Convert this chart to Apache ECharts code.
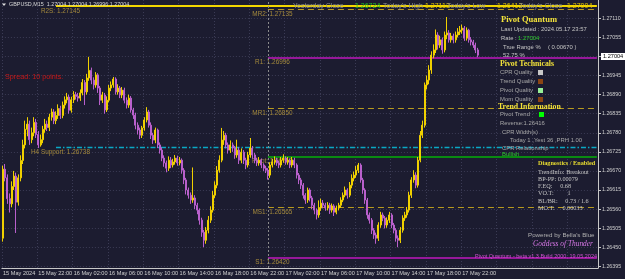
<!DOCTYPE html>
<html>
<head>
<meta charset="utf-8">
<script src="https://cdn.jsdelivr.net/npm/echarts@6/dist/echarts.min.js"></script>
<style>
  html, body { margin: 0; padding: 0; background: #1c1c30; }
  #chart { width: 625px; height: 279px; }
</style>
</head>
<body>
<div id="chart"></div>
<script>
// GBPUSD M15, 15 May 18:00 -> 17 May 23:45 (216 bars)
const timeLabels = ['15 May 2024', '15 May 22:00', '16 May 02:00', '16 May 06:00', '16 May 10:00',
  '16 May 14:00', '16 May 18:00', '16 May 22:00', '17 May 02:00', '17 May 06:00',
  '17 May 10:00', '17 May 14:00', '17 May 18:00', '17 May 22:00'];
const barsPerLabel = 16;
const slotCount = 270; // bars + chart shift space

const opens = [
  1.26476, 1.26675, 1.26650, 1.26590, 1.26575, 1.26625, 1.26655, 1.26580, 1.26650, 1.26700,
  1.26745, 1.26790, 1.26805, 1.26760, 1.26780, 1.26810, 1.26775, 1.26745, 1.26760, 1.26790,
  1.26805, 1.26795, 1.26825, 1.26840, 1.26815, 1.26830, 1.26850, 1.26830, 1.26860, 1.26875,
  1.26883, 1.26845, 1.26875, 1.26890, 1.26885, 1.26880, 1.26895, 1.26925, 1.26898, 1.26938,
  1.26960, 1.26932, 1.26918, 1.26947, 1.26909, 1.26874, 1.26889, 1.26846, 1.26874, 1.26909,
  1.26918, 1.26935, 1.26898, 1.26909, 1.26889, 1.26903, 1.26874, 1.26860, 1.26880, 1.26846,
  1.26831, 1.26802, 1.26788, 1.26773, 1.26794, 1.26817, 1.26840, 1.26802, 1.26773, 1.26759,
  1.26788, 1.26745, 1.26730, 1.26707, 1.26693, 1.26678, 1.26701, 1.26687, 1.26696, 1.26707,
  1.26693, 1.26701, 1.26672, 1.26644, 1.26615, 1.26600, 1.26586, 1.26592, 1.26571, 1.26557,
  1.26528, 1.26493, 1.26470, 1.26499, 1.26528, 1.26557, 1.26600, 1.26629, 1.26672, 1.26701,
  1.26759, 1.26773, 1.26745, 1.26730, 1.26745, 1.26736, 1.26716, 1.26730, 1.26701, 1.26724,
  1.26701, 1.26687, 1.26716, 1.26736, 1.26716, 1.26701, 1.26693, 1.26701, 1.26687, 1.26678,
  1.26672, 1.26658, 1.26687, 1.26696, 1.26701, 1.26693, 1.26687, 1.26701, 1.26707, 1.26696,
  1.26701, 1.26687, 1.26701, 1.26687, 1.26658, 1.26644, 1.26629, 1.26600, 1.26586, 1.26615,
  1.26592, 1.26571, 1.26557, 1.26543, 1.26563, 1.26577, 1.26571, 1.26563, 1.26571, 1.26557,
  1.26569, 1.26551, 1.26563, 1.26571, 1.26586, 1.26600, 1.26615, 1.26600, 1.26629, 1.26649,
  1.26658, 1.26672, 1.26687, 1.26644, 1.26615, 1.26586, 1.26543, 1.26528, 1.26499, 1.26485,
  1.26476, 1.26514, 1.26543, 1.26534, 1.26514, 1.26528, 1.26543, 1.26514, 1.26499, 1.26476,
  1.26470, 1.26499, 1.26534, 1.26543, 1.26557, 1.26600, 1.26644, 1.26658, 1.26629, 1.26701,
  1.26773, 1.26802, 1.26918, 1.26932, 1.26961, 1.27004, 1.27019, 1.27062, 1.27033, 1.27048,
  1.27019, 1.27062, 1.27068, 1.27048, 1.27059, 1.27048, 1.27062, 1.27071, 1.27076, 1.27082,
  1.27053, 1.27076, 1.27048, 1.27042, 1.27033, 1.27019
];
const closes = [
  1.26675, 1.26650, 1.26590, 1.26575, 1.26625, 1.26655, 1.26580, 1.26650, 1.26700, 1.26745,
  1.26790, 1.26805, 1.26760, 1.26780, 1.26810, 1.26775, 1.26745, 1.26760, 1.26790, 1.26805,
  1.26795, 1.26825, 1.26840, 1.26815, 1.26830, 1.26850, 1.26830, 1.26860, 1.26875, 1.26883,
  1.26845, 1.26875, 1.26890, 1.26885, 1.26880, 1.26895, 1.26925, 1.26898, 1.26938, 1.26960,
  1.26932, 1.26918, 1.26947, 1.26909, 1.26874, 1.26889, 1.26846, 1.26874, 1.26909, 1.26918,
  1.26935, 1.26898, 1.26909, 1.26889, 1.26903, 1.26874, 1.26860, 1.26880, 1.26846, 1.26831,
  1.26802, 1.26788, 1.26773, 1.26794, 1.26817, 1.26840, 1.26802, 1.26773, 1.26759, 1.26788,
  1.26745, 1.26730, 1.26707, 1.26693, 1.26678, 1.26701, 1.26687, 1.26696, 1.26707, 1.26693,
  1.26701, 1.26672, 1.26644, 1.26615, 1.26600, 1.26586, 1.26592, 1.26571, 1.26557, 1.26528,
  1.26493, 1.26470, 1.26499, 1.26528, 1.26557, 1.26600, 1.26629, 1.26672, 1.26701, 1.26759,
  1.26773, 1.26745, 1.26730, 1.26745, 1.26736, 1.26716, 1.26730, 1.26701, 1.26724, 1.26701,
  1.26687, 1.26716, 1.26736, 1.26716, 1.26701, 1.26693, 1.26701, 1.26687, 1.26678, 1.26672,
  1.26658, 1.26687, 1.26696, 1.26701, 1.26693, 1.26687, 1.26701, 1.26707, 1.26696, 1.26701,
  1.26687, 1.26701, 1.26687, 1.26658, 1.26644, 1.26629, 1.26600, 1.26586, 1.26615, 1.26592,
  1.26571, 1.26557, 1.26543, 1.26563, 1.26577, 1.26571, 1.26563, 1.26571, 1.26557, 1.26569,
  1.26551, 1.26563, 1.26571, 1.26586, 1.26600, 1.26615, 1.26600, 1.26629, 1.26649, 1.26658,
  1.26672, 1.26687, 1.26644, 1.26615, 1.26586, 1.26543, 1.26528, 1.26499, 1.26485, 1.26476,
  1.26514, 1.26543, 1.26534, 1.26514, 1.26528, 1.26543, 1.26514, 1.26499, 1.26476, 1.26470,
  1.26499, 1.26534, 1.26543, 1.26557, 1.26600, 1.26644, 1.26658, 1.26629, 1.26701, 1.26773,
  1.26802, 1.26918, 1.26932, 1.26961, 1.27004, 1.27019, 1.27062, 1.27033, 1.27048, 1.27019,
  1.27062, 1.27068, 1.27048, 1.27059, 1.27048, 1.27062, 1.27071, 1.27076, 1.27082, 1.27053,
  1.27076, 1.27048, 1.27042, 1.27033, 1.27019, 1.27004
];
const lows = [
  1.26466, 1.26640, 1.26575, 1.26550, 1.26565, 1.26615, 1.26491, 1.26570, 1.26640, 1.26690,
  1.26735, 1.26770, 1.26745, 1.26750, 1.26770, 1.26765, 1.26736, 1.26740, 1.26750, 1.26780,
  1.26785, 1.26785, 1.26815, 1.26805, 1.26805, 1.26820, 1.26820, 1.26822, 1.26850, 1.26865,
  1.26835, 1.26838, 1.26866, 1.26876, 1.26870, 1.26872, 1.26888, 1.26860, 1.26890, 1.26930,
  1.26920, 1.26905, 1.26910, 1.26895, 1.26860, 1.26866, 1.26835, 1.26840, 1.26868, 1.26900,
  1.26910, 1.26890, 1.26890, 1.26880, 1.26880, 1.26865, 1.26850, 1.26852, 1.26838, 1.26820,
  1.26790, 1.26775, 1.26762, 1.26765, 1.26786, 1.26810, 1.26795, 1.26762, 1.26748, 1.26750,
  1.26736, 1.26720, 1.26698, 1.26682, 1.26666, 1.26670, 1.26678, 1.26680, 1.26688, 1.26685,
  1.26686, 1.26662, 1.26632, 1.26602, 1.26590, 1.26575, 1.26578, 1.26560, 1.26545, 1.26515,
  1.26480, 1.26450, 1.26460, 1.26490, 1.26520, 1.26550, 1.26592, 1.26620, 1.26665, 1.26695,
  1.26745, 1.26735, 1.26720, 1.26722, 1.26725, 1.26705, 1.26708, 1.26690, 1.26692, 1.26690,
  1.26675, 1.26680, 1.26708, 1.26705, 1.26692, 1.26684, 1.26685, 1.26678, 1.26670, 1.26664,
  1.26645, 1.26650, 1.26680, 1.26688, 1.26685, 1.26678, 1.26680, 1.26694, 1.26688, 1.26688,
  1.26678, 1.26680, 1.26678, 1.26648, 1.26632, 1.26618, 1.26590, 1.26575, 1.26578, 1.26582,
  1.26560, 1.26545, 1.26530, 1.26535, 1.26555, 1.26562, 1.26555, 1.26556, 1.26546, 1.26550,
  1.26540, 1.26545, 1.26556, 1.26564, 1.26580, 1.26594, 1.26590, 1.26594, 1.26620, 1.26640,
  1.26650, 1.26664, 1.26636, 1.26604, 1.26575, 1.26532, 1.26518, 1.26488, 1.26474, 1.26460,
  1.26468, 1.26506, 1.26525, 1.26504, 1.26506, 1.26520, 1.26505, 1.26490, 1.26466, 1.26450,
  1.26462, 1.26492, 1.26526, 1.26535, 1.26550, 1.26592, 1.26636, 1.26620, 1.26622, 1.26695,
  1.26765, 1.26795, 1.26905, 1.26920, 1.26950, 1.26995, 1.27010, 1.27020, 1.27025, 1.27008,
  1.27012, 1.27050, 1.27040, 1.27040, 1.27038, 1.27040, 1.27055, 1.27062, 1.27066, 1.27045,
  1.27046, 1.27040, 1.27032, 1.27025, 1.27010, 1.26998
];
const highs = [
  1.26685, 1.26690, 1.26660, 1.26605, 1.26640, 1.26670, 1.26665, 1.26660, 1.26715, 1.26760,
  1.26815, 1.26825, 1.26815, 1.26795, 1.26825, 1.26820, 1.26785, 1.26775, 1.26800, 1.26820,
  1.26815, 1.26835, 1.26850, 1.26848, 1.26842, 1.26862, 1.26858, 1.26870, 1.26885, 1.26895,
  1.26890, 1.26884, 1.26900, 1.26898, 1.26895, 1.26905, 1.26935, 1.26932, 1.26950, 1.26999,
  1.26968, 1.26940, 1.26955, 1.26952, 1.26915, 1.26898, 1.26895, 1.26885, 1.26918, 1.26928,
  1.26941, 1.26940, 1.26920, 1.26915, 1.26912, 1.26910, 1.26882, 1.26890, 1.26886, 1.26852,
  1.26838, 1.26810, 1.26795, 1.26800, 1.26825, 1.26854, 1.26846, 1.26810, 1.26780, 1.26795,
  1.26792, 1.26752, 1.26738, 1.26715, 1.26700, 1.26712, 1.26710, 1.26705, 1.26716, 1.26714,
  1.26710, 1.26706, 1.26678, 1.26650, 1.26622, 1.26608, 1.26680, 1.26600, 1.26578, 1.26562,
  1.26535, 1.26500, 1.26508, 1.26540, 1.26568, 1.26612, 1.26640, 1.26684, 1.26715, 1.26794,
  1.26785, 1.26780, 1.26752, 1.26758, 1.26752, 1.26742, 1.26760, 1.26738, 1.26735, 1.26730,
  1.26708, 1.26725, 1.26765, 1.26742, 1.26722, 1.26708, 1.26710, 1.26706, 1.26692, 1.26685,
  1.26678, 1.26695, 1.26705, 1.26712, 1.26708, 1.26700, 1.26710, 1.26718, 1.26712, 1.26710,
  1.26706, 1.26710, 1.26708, 1.26692, 1.26664, 1.26650, 1.26635, 1.26606, 1.26622, 1.26620,
  1.26598, 1.26578, 1.26562, 1.26585, 1.26590, 1.26586, 1.26578, 1.26580, 1.26578, 1.26576,
  1.26574, 1.26570, 1.26578, 1.26594, 1.26608, 1.26625, 1.26620, 1.26638, 1.26660, 1.26668,
  1.26684, 1.26693, 1.26692, 1.26650, 1.26620, 1.26592, 1.26550, 1.26534, 1.26505, 1.26492,
  1.26522, 1.26552, 1.26550, 1.26540, 1.26536, 1.26552, 1.26548, 1.26520, 1.26505, 1.26484,
  1.26508, 1.26542, 1.26552, 1.26566, 1.26610, 1.26652, 1.26672, 1.26666, 1.26710, 1.26785,
  1.26815, 1.26925, 1.26945, 1.26975, 1.27015, 1.27035, 1.27078, 1.27070, 1.27060, 1.27055,
  1.27072, 1.27114, 1.27076, 1.27068, 1.27066, 1.27072, 1.27082, 1.27088, 1.27092, 1.27088,
  1.27084, 1.27080, 1.27056, 1.27048, 1.27040, 1.27025
];

const priceTicks = [1.26395, 1.26450, 1.26505, 1.26560, 1.26615, 1.26670, 1.26725, 1.26780,
  1.26835, 1.26890, 1.26945, 1.27000, 1.27055, 1.27110];
const priceLabels = [1.26395, 1.26450, 1.26505, 1.26560, 1.26615, 1.26670, 1.26725, 1.26780,
  1.26835, 1.26890, 1.26945, 1.27055, 1.27110];
const lastPrice = 1.27004;

// pivot levels and the bar where each one starts
const levelNames = ['R2S', 'MR2', 'R1', 'MR1', 'H4 Support', 'Pivot', 'MS1', 'S1'];
const levelValues = [1.27145, 1.27135, 1.26996, 1.26850, 1.26738, 1.26710, 1.26565, 1.26420];
const levelStartBar = [24, 120, 120, 120, 24, 120, 120, 120];
const daySeparatorBar = 120;

const gold = '#a58a3c';
const levelStyle = {
  'R2S': { color: '#f2d600', width: 2, type: 'solid' },
  'MR2': { color: '#b89a1e', width: 1, type: [6, 4] },
  'R1': { color: '#96189a', width: 2, type: 'solid' },
  'MR1': { color: '#b89a1e', width: 1, type: [6, 4] },
  'H4 Support': { color: '#0aa8c4', width: 1.4, type: [5, 2, 1.5, 2] },
  'Pivot': { color: '#0a8a12', width: 2, type: 'solid' },
  'MS1': { color: '#b89a1e', width: 1, type: [6, 4] },
  'S1': { color: '#96189a', width: 2, type: 'solid' }
};

const slots = [];
for (let i = 0; i < slotCount; i++) slots.push(String(i));
const candles = closes.map((c, i) => [opens[i], c, lows[i], highs[i]]);
const onLabel = (idx) => idx % barsPerLabel === 0 && idx / barsPerLabel < timeLabels.length;

const chart = echarts.init(document.getElementById('chart'));

const levelLines = levelNames.map((name, i) => [
  { coord: [levelStartBar[i], levelValues[i]], lineStyle: levelStyle[name] },
  { coord: [slotCount - 1, levelValues[i]] }
]);

chart.setOption({
  backgroundColor: '#1c1c30',
  animation: false,
  grid: { left: 0, right: 27, top: 0, bottom: 11, containLabel: false },
  xAxis: {
    type: 'category',
    data: slots,
    boundaryGap: true,
    axisLine: { lineStyle: { color: '#c8c8c8', width: 1 } },
    axisTick: { interval: (i) => onLabel(i), alignWithLabel: true, length: 2, lineStyle: { color: '#c8c8c8' } },
    axisLabel: {
      interval: (i) => onLabel(i),
      formatter: (v, i) => timeLabels[i / barsPerLabel] || '',
      align: 'left', margin: 2, color: '#d0d0d0',
      fontFamily: 'Liberation Sans', fontSize: 5.6
    },
    splitLine: {
      show: true, interval: (i) => i % barsPerLabel === 0,
      lineStyle: { color: '#3b3b55', type: [1, 2], width: 1 }
    }
  },
  yAxis: {
    type: 'value',
    position: 'right',
    scale: true,
    min: 1.26390,
    max: 1.27163,
    axisLine: { show: true, lineStyle: { color: '#c8c8c8', width: 1 } },
    axisTick: { show: true, customValues: priceTicks, length: 3, lineStyle: { color: '#c8c8c8' } },
    axisLabel: {
      customValues: priceLabels,
      formatter: (v) => v.toFixed(5),
      color: '#d0d0d0', margin: 4,
      fontFamily: 'Liberation Sans', fontSize: 5.3
    },
    splitLine: { show: true, lineStyle: { color: '#3b3b55', type: [1, 2], width: 1 } }
  },
  series: [{
    type: 'candlestick',
    data: candles,
    barWidth: 1.5,
    z: 5,
    itemStyle: {
      color: '#f0d000', color0: '#b960cc',
      borderColor: '#f0d000', borderColor0: '#b960cc', borderWidth: 1
    },
    markLine: {
      symbol: ['none', 'none'],
      silent: true,
      z: 3,
      label: { show: false },
      emphasis: { disabled: true },
      data: [
        ...levelLines,
        { xAxis: daySeparatorBar, lineStyle: { color: '#8a8a8a', type: [2, 2], width: 1 } }
      ]
    }
  }, {
    // carries the current price tag on the axis
    type: 'line',
    data: [],
    markLine: {
      symbol: ['none', 'none'],
      silent: true,
      z: 20,
      data: [{
        yAxis: lastPrice,
        lineStyle: { color: 'rgba(0,0,0,0)', width: 0 },
        label: {
          show: true, position: 'end', distance: 3,
          formatter: lastPrice.toFixed(5),
          backgroundColor: '#ffffff', color: '#000000',
          padding: [1, 2, 0, 2], fontFamily: 'Liberation Sans', fontSize: 5.6
        }
      }]
    }
  }]
});

// text objects drawn on the chart
function txt(x, y, text, fill, size, extra) {
  return {
    type: 'text', x: x, y: y, z: 1,
    style: Object.assign({
      text: text, fill: fill,
      font: size + 'px "Liberation Sans"',
      textVerticalAlign: 'middle'
    }, extra || {})
  };
}
function box(x, y, fill) {
  return { type: 'rect', z: 10, shape: { x: x, y: y, width: 5, height: 5 }, style: { fill: fill } };
}
const serifBold = (s) => ({ font: 'bold ' + s + 'px "Liberation Serif"' });
const serif = (s) => ({ font: s + 'px "Liberation Serif"' });

const graphics = [];
levelNames.forEach((name, i) => {
  const p = chart.convertToPixel({ gridIndex: 0 }, [levelStartBar[i], levelValues[i]]);
  graphics.push(txt(p[0] + 4.5, p[1] + 4.5, name + ': ' + levelValues[i].toFixed(5), gold, 6.4,
    { textAlign: 'center' }));
});

const grey = '#c4c4c4';
const dim = '#a8a8a8';
const zz = (g) => { g.z = 10; return g; };
graphics.push(
  { type: 'polygon', z: 10, shape: { points: [[2, 3.5], [6, 3.5], [4, 6]] }, style: { fill: '#e0e0e0' } },
  zz(txt(9, 5, 'GBPUSD,M15  1.27004 1.27004 1.26996 1.27004', '#d8d8d8', 5.4)),
  zz(txt(293, 6, 'Yesterday Close', '#8e8e8e', 7)),
  zz(txt(355, 6, '1.26724', '#22c422', 7)),
  zz(txt(383, 6, "Today's High", '#8e8e8e', 7)),
  zz(txt(425, 6, '1.27113', '#e8c800', 7)),
  zz(txt(447, 6, "Today's Low", '#8e8e8e', 7)),
  zz(txt(497, 6, '1.26413', '#e8c800', 7)),
  zz(txt(519, 6, "Today's Close", '#8e8e8e', 7)),
  zz(txt(567, 6, '1.27004', '#e8c800', 7)),
  zz(txt(5, 77, 'Spread: 10 points.', '#c81818', 7.2)),

  zz(txt(501, 20, 'Pivot Quantum', '#f2e23a', 8.5, serifBold(8.5))),
  zz(txt(501, 29, 'Last Updated : 2024.05.17 23:57', grey, 5.9)),
  zz(txt(501, 38, 'Rate : ', grey, 5.9)),
  zz(txt(518, 38, '1.27004', '#2ec82e', 5.9)),
  zz(txt(503, 47, 'True Range %', grey, 5.9)),
  zz(txt(548, 47, '( 0.00670 )', grey, 5.9)),
  zz(txt(503, 55, '52.75 %', grey, 5.9)),
  zz(txt(500, 64, 'Pivot Technicals', '#f2e23a', 7.8, serifBold(7.8))),
  zz(txt(500, 72, 'CPR Quality', dim, 5.9)),
  box(538, 70, '#c8c8c8'),
  zz(txt(500, 81, 'Trend Quality', dim, 5.9)),
  box(538, 79, '#8b4513'),
  zz(txt(500, 90, 'Pivot Quality', dim, 5.9)),
  box(538, 88, '#98f098'),
  zz(txt(500, 99, 'Mom Quality', dim, 5.9)),
  box(538, 97, '#8b4513'),
  zz(txt(498, 107, 'Trend Information', '#f2e23a', 7.8, serifBold(7.8))),
  zz(txt(500, 114, 'Pivot Trend', dim, 5.9)),
  box(539, 112, '#00ff00'),
  zz(txt(500, 123, 'Reverse:1.26416', dim, 5.9)),
  zz(txt(502, 132, 'CPR Width(s)', dim, 5.9)),
  zz(txt(510, 140, 'Today 1 ,Yest 36 ,PRH 1.00', dim, 5.9)),
  zz(txt(502, 148, 'CPR Relationship', dim, 5.9)),
  zz(txt(502, 154, 'Bullish', '#2ec82e', 5.9)),
  zz(txt(538, 163, 'Diagnostics / Enabled', '#e8dc30', 6.2, serifBold(6.2))),
  zz(txt(538, 172, 'TrendInfo: Breakout', grey, 6.2, serif(6.2))),
  zz(txt(538, 179, 'BP-PP: 0.00079', grey, 6.2, serif(6.2))),
  zz(txt(538, 186, 'F.EQ:     0.68', grey, 6.2, serif(6.2))),
  zz(txt(538, 193, 'VO.T:         1', grey, 6.2, serif(6.2))),
  zz(txt(538, 201, 'BL/BR:     0.73 / 1.6', grey, 6.2, serif(6.2))),
  zz(txt(538, 208, 'MO.T:     0.00033', grey, 6.2, serif(6.2))),
  zz(txt(528, 235, "Powered by Bella's Blue", '#b0b0b0', 6.2)),
  zz(txt(533, 244, 'Goddess of Thunder', '#d878e8', 7.4, { font: 'italic 7.4px "Liberation Serif"' })),
  zz(txt(597, 256, 'Pivot Quantum - beta v1.3 Build 2000, 19.05.2024', '#d050d0', 5.5, { textAlign: 'right' }))
);

chart.setOption({ graphic: graphics });
</script>
</body>
</html>
